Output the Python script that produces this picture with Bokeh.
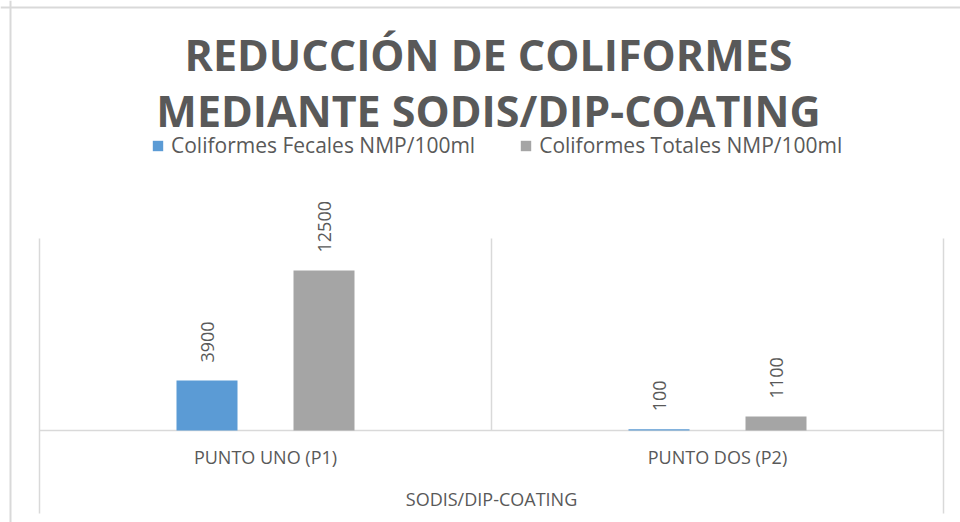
import math
from bokeh.plotting import figure
from bokeh.models import Range1d, ColumnDataSource, Legend, LegendItem, Span
from bokeh.core.properties import value
from bokeh.embed import file_html
from bokeh.resources import INLINE

# ---- data ----
categories = ["PUNTO UNO (P1)", "PUNTO DOS (P2)"]
series_names = ["Coliformes Fecales NMP/100ml", "Coliformes Totales NMP/100ml"]
fecales = [3900, 100]
totales = [12500, 1100]
title_lines = ["REDUCCIÓN DE COLIFORMES", "MEDIANTE SODIS/DIP-COATING"]
axis_title = "SODIS/DIP-COATING"
y_max = 15000

# ---- geometry (picture pixels) ----
W, H = 960, 522
ORIG = 0
PLOT_L, PLOT_R = 39, 943
PLOT_T, BASE = 238, 430
UX = (PLOT_R - PLOT_L) / len(categories)   # px per category
UY = y_max / (BASE - PLOT_T)               # data units per px


def X(px):
    return (px - PLOT_L) / UX


def Y(py):
    return (BASE - py) * UY


TEXT = "#595959"
LINE = "#D9D9D9"
FONT_NAME = "Open Sans"
FONT = value(FONT_NAME)
BAR_OFF = 58.5 / UX
BAR_W = 61 / UX

p = figure(width=W, height=H, x_range=Range1d(X(ORIG), X(ORIG + W)),
           y_range=Range1d(Y(ORIG + H), Y(ORIG)),
           output_backend="svg", toolbar_location=None,
           x_axis_location=None, y_axis_location=None,
           min_border=0, outline_line_color=None)
p.grid.visible = False
p.background_fill_color = "white"

xc = [i + 0.5 for i in range(len(categories))]
src = ColumnDataSource(dict(
    xc=xc,
    xf=[x - BAR_OFF for x in xc],
    xt=[x + BAR_OFF for x in xc],
    fec=fecales, tot=totales,
    fec_lbl=[str(v) for v in fecales],
    tot_lbl=[str(v) for v in totales],
    cat=categories,
))

# chart-area border (left and top)
p.add_layout(Span(location=X(10), dimension="height", line_color=LINE, line_width=2))
p.add_layout(Span(location=Y(7), dimension="width", line_color=LINE, line_width=2))

# plot-area lines
n = len(categories)
p.segment(x0=[0, n], y0=[Y(513)] * 2, x1=[0, n], y1=[y_max] * 2,
          line_color=LINE, line_width=1.5)
p.segment(x0=list(range(1, n)), y0=[0] * (n - 1), x1=list(range(1, n)),
          y1=[y_max] * (n - 1), line_color=LINE, line_width=1.5)
p.segment(x0=[0], y0=[0], x1=[n], y1=[0], line_color=LINE, line_width=1.5)

r1 = p.vbar(x="xf", top="fec", bottom=0, width=BAR_W, source=src,
            fill_color="#5B9BD5", line_color=None)
r2 = p.vbar(x="xt", top="tot", bottom=0, width=BAR_W, source=src,
            fill_color="#A5A5A5", line_color=None)

lbl = dict(angle=math.pi / 2, text_align="left", text_baseline="middle",
           y_offset=-18, text_font=FONT, text_font_size="18px", text_color=TEXT,
           source=src)
p.text(x="xf", y="fec", text="fec_lbl", **lbl)
p.text(x="xt", y="tot", text="tot_lbl", **lbl)

# category labels
p.text(x="xc", y=0, text="cat", source=src, text_align="center",
       text_baseline="alphabetic", y_offset=26, text_font=FONT,
       text_font_size="18px", text_color=TEXT)
# axis title
p.text(x=[n / 2], y=[0], text=[axis_title], text_align="center",
       text_baseline="alphabetic", y_offset=68, text_font=FONT,
       text_font_size="18px", text_color=TEXT)

# chart title
p.text(x=[X(488)] * 2, y=[Y(54), Y(110)], text=title_lines,
       text_align="center", text_baseline="alphabetic", text_font=FONT,
       text_font_style="bold", text_font_size="43px", text_color=TEXT)

legend = Legend(items=[LegendItem(label=series_names[0], renderers=[r1]),
                       LegendItem(label=series_names[1], renderers=[r2])],
                orientation="horizontal", location=(151, H - 159),
                glyph_width=13, glyph_height=13, label_standoff=7, spacing=44,
                padding=0, margin=0, border_line_color=None,
                background_fill_alpha=0, label_text_font=FONT_NAME,
                label_text_font_size="21px", label_text_color=TEXT)
p.add_layout(legend)

open("out.html", "w").write(file_html(p, INLINE))
